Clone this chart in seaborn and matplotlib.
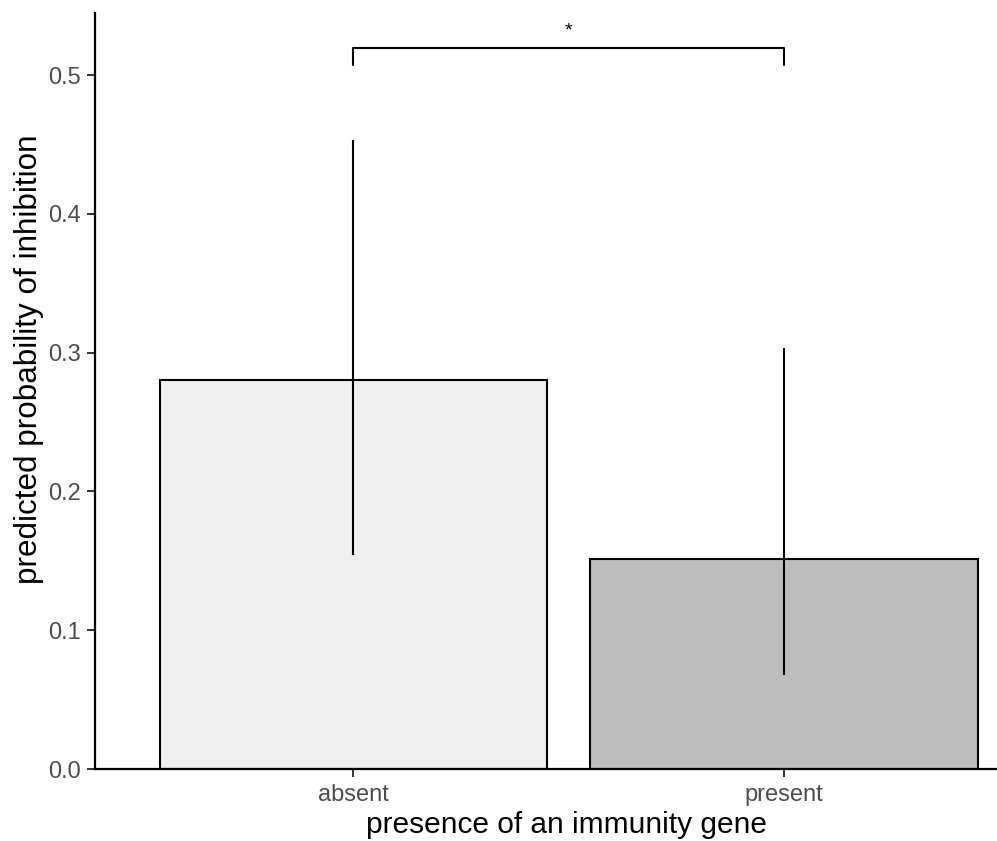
import matplotlib
matplotlib.use("Agg")
import matplotlib.pyplot as plt
import seaborn as sns
import pandas as pd

categories = ["absent", "present"]
prob = [0.2803, 0.1513]
ci_low = [0.1542, 0.0677]
ci_high = [0.4532, 0.3033]
bar_colors = ["#EFEFEF", "#BDBDBD"]
bracket_y = 0.5195
bracket_tip = 0.507
star_y = 0.532

sns.set_theme(style="ticks")
plt.rcParams["font.family"] = ["Liberation Sans", "DejaVu Sans"]

df = pd.DataFrame({"gene": categories, "prob": prob})

fig = plt.figure(figsize=(9.97, 8.41), dpi=100)
ax = fig.add_axes([95 / 997, 72 / 841, 1 - 95 / 997, (769 - 13) / 841])

sns.barplot(data=df, x="gene", y="prob", hue="gene", palette=bar_colors,
            order=categories, hue_order=categories, width=0.9,
            edgecolor="black", linewidth=1.5, errorbar=None, legend=False, ax=ax)

xs = list(range(len(categories)))
ax.vlines(xs, ci_low, ci_high, colors="black", linewidth=1.5, zorder=3)

ax.plot([xs[0], xs[0], xs[1], xs[1]], [bracket_tip, bracket_y, bracket_y, bracket_tip],
        color="black", linewidth=1.5, clip_on=False)
ax.text((xs[0] + xs[1]) / 2, star_y, "*", ha="center", va="center", fontsize=14, color="black")

ax.set_xlim(-0.6, 1.494)
ax.set_ylim(0, 0.5447)
ax.set_yticks([0.0, 0.1, 0.2, 0.3, 0.4, 0.5])
ax.set_yticklabels(["0.0", "0.1", "0.2", "0.3", "0.4", "0.5"])

for s in ["top", "right"]:
    ax.spines[s].set_visible(False)
for s in ["left", "bottom"]:
    ax.spines[s].set_linewidth(1.6)
    ax.spines[s].set_color("black")

ax.tick_params(axis="both", labelsize=17, labelcolor="#4D4D4D", color="#333333",
               length=5.5, width=1.4)
ax.tick_params(axis="y", pad=4.5)
ax.tick_params(axis="x", pad=5)
ax.set_xlabel("presence of an immunity gene", fontsize=21.5, color="black")
ax.set_ylabel("predicted probability of inhibition", fontsize=22.6, color="black")
ax.xaxis.set_label_coords((566 - 95) / 902, -(833 - 769) / 756, transform=ax.transAxes)
ax.xaxis.label.set_va("baseline")
ax.yaxis.set_label_coords(-(95 - 29) / 902, (769 - 359) / 756)
ax.yaxis.label.set_va("center")

fig.savefig("out.png", dpi=100)
